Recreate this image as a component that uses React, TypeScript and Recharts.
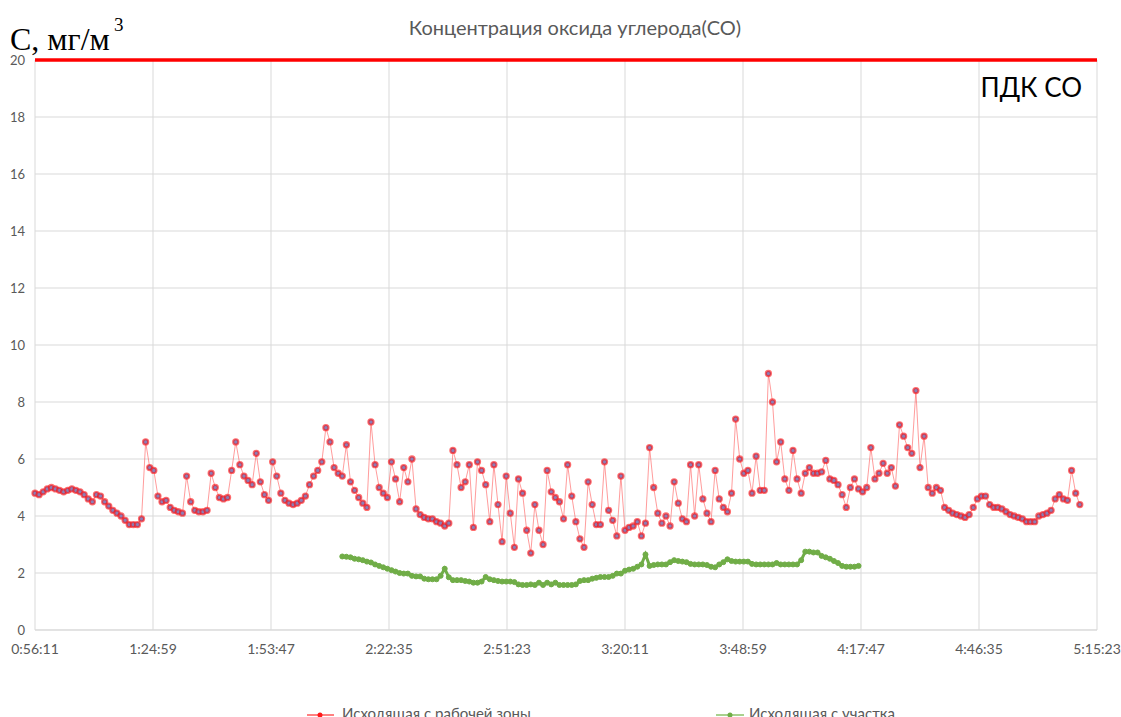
import React from 'react'
import {
  LineChart,
  Line,
  XAxis,
  YAxis,
  CartesianGrid,
  ReferenceLine,
} from 'recharts'

const T0 = 3371
const STEP = 60
const GREEN_START = 75

const xTickLabels = ['0:56:11', '1:24:59', '1:53:47', '2:22:35', '2:51:23', '3:20:11', '3:48:59', '4:17:47', '4:46:35', '5:15:23']
const yTicks = [0, 2, 4, 6, 8, 10, 12, 14, 16, 18, 20]
const pdk = 20

// Исходящая с рабочей зоны
const redA = [
  4.8, 4.75, 4.85, 4.95, 5.0, 4.95, 4.9, 4.85, 4.9, 4.95,
  4.9, 4.85, 4.75, 4.6, 4.5, 4.75, 4.7, 4.5, 4.35, 4.2,
  4.1, 4.0, 3.85, 3.7, 3.7, 3.7, 3.9, 6.6, 5.7, 5.6,
  4.7, 4.5, 4.55, 4.3, 4.2, 4.15, 4.1, 5.4, 4.5, 4.2,
  4.15, 4.15, 4.2, 5.5, 5.0, 4.65, 4.6, 4.65, 5.6, 6.6,
]
const redB = [
  5.8, 5.4, 5.25, 5.1, 6.2, 5.2, 4.75, 4.55, 5.9, 5.4,
  4.8, 4.55, 4.45, 4.4, 4.45, 4.55, 4.7, 5.1, 5.4, 5.6,
  5.9, 7.1, 6.6, 5.7, 5.5, 5.4, 6.5, 5.2, 4.9, 4.65,
  4.45, 4.3, 7.3, 5.8, 5.0, 4.8, 4.65, 5.9, 5.3, 4.5,
  5.7, 5.2, 6.0, 4.25, 4.05, 3.95, 3.9, 3.9, 3.8, 3.75,
]
const redC = [
  3.65, 3.75, 6.3, 5.8, 5.0, 5.2, 5.8, 3.6, 5.9, 5.6,
  5.1, 3.8, 5.8, 4.4, 3.1, 5.4, 4.1, 2.9, 5.3, 4.8,
  3.5, 2.7, 4.4, 3.5, 3.0, 5.6, 4.85, 4.65, 4.5, 3.9,
  5.8, 4.7, 3.8, 3.2, 2.9, 5.2, 4.4, 3.7, 3.7, 5.9,
  4.2, 3.85, 3.3, 5.4, 3.5, 3.6, 3.65, 3.8, 3.3, 3.75,
]
const redD = [
  6.4, 5.0, 4.1, 3.75, 4.0, 3.65, 5.2, 4.45, 3.9, 3.8,
  5.8, 4.0, 5.8, 4.6, 4.1, 3.8, 5.6, 4.6, 4.3, 4.15,
  4.8, 7.4, 6.0, 5.5, 5.6, 4.8, 6.1, 4.9, 4.9, 9.0,
  8.0, 5.9, 6.6, 5.3, 4.9, 6.3, 5.3, 4.8, 5.5, 5.7,
  5.5, 5.5, 5.55, 5.95, 5.3, 5.25, 5.1, 4.75, 4.3, 5.0,
]
const redE = [
  5.3, 4.95, 4.85, 5.0, 6.4, 5.3, 5.5, 5.85, 5.5, 5.7,
  5.05, 7.2, 6.8, 6.4, 6.2, 8.4, 5.7, 6.8, 5.0, 4.8,
  5.0, 4.9, 4.3, 4.2, 4.1, 4.05, 4.0, 3.95, 4.05, 4.3,
  4.6, 4.7, 4.7, 4.4, 4.3, 4.3, 4.25, 4.15, 4.05, 4.0,
  3.95, 3.9, 3.8, 3.8, 3.8, 4.0, 4.05, 4.1, 4.2, 4.6,
  4.75, 4.6, 4.55, 5.6, 4.8, 4.4,
]

// Исходящая с участка
const greenA = [
  2.58, 2.57, 2.55, 2.5, 2.48, 2.45, 2.4, 2.37, 2.3, 2.25,
  2.2, 2.15, 2.1, 2.05, 2.0, 1.98, 1.98, 1.9, 1.88, 1.88,
  1.8, 1.78, 1.78, 1.78, 1.9, 2.15, 1.85, 1.75, 1.75, 1.75,
  1.72, 1.7, 1.66, 1.66, 1.7, 1.86, 1.78, 1.75, 1.72, 1.7,
  1.7, 1.7, 1.68, 1.6, 1.58, 1.58, 1.6, 1.58, 1.66, 1.58,
]
const greenB = [
  1.66, 1.6, 1.66, 1.58, 1.58, 1.58, 1.58, 1.6, 1.72, 1.75,
  1.75, 1.8, 1.83, 1.86, 1.86, 1.86, 1.9, 1.98, 1.98, 2.08,
  2.12, 2.15, 2.22, 2.3, 2.65, 2.25, 2.28, 2.3, 2.3, 2.3,
  2.38, 2.45, 2.42, 2.4, 2.38, 2.32, 2.3, 2.3, 2.3, 2.28,
  2.22, 2.2, 2.3, 2.38, 2.48, 2.42, 2.4, 2.4, 2.4, 2.4,
  2.32, 2.3, 2.3, 2.3, 2.3, 2.3, 2.35, 2.3, 2.3, 2.3,
  2.3, 2.3, 2.45, 2.75, 2.75, 2.72, 2.72, 2.6, 2.55, 2.5,
  2.42, 2.35, 2.25, 2.22, 2.22, 2.22, 2.25,
]

const red = [...redA, ...redB, ...redC, ...redD, ...redE]
const green = [...greenA, ...greenB]

const parseTime = (s: string) => {
  const [h, m, sec] = s.split(':').map(Number)
  return h * 3600 + m * 60 + sec
}
const fmtTime = (v: number) => {
  const h = Math.floor(v / 3600)
  const m = Math.floor((v % 3600) / 60)
  const s = v % 60
  return `${h}:${String(m).padStart(2, '0')}:${String(s).padStart(2, '0')}`
}

const xTicks = xTickLabels.map(parseTime)

const data = red.map((v, i) => {
  const g = green[i - GREEN_START]
  return { t: T0 + i * STEP, red: v, green: g === undefined ? null : g }
})

const FONT = 'Lato, "Open Sans", sans-serif'
const SERIF = '"Liberation Serif", "DejaVu Serif", serif'
const GREY = '#595959'

export default function App() {
  return (
    <div style={{ position: 'absolute', left: 0, top: 0, width: 1121, height: 717, background: '#fff', overflow: 'hidden' }}>
      <LineChart width={1121} height={717} data={data} margin={{ top: 60, right: 24, left: 0, bottom: 57 }}>
        <CartesianGrid stroke="#d9d9d9" strokeWidth={1} />
        <XAxis
          dataKey="t"
          type="number"
          domain={[xTicks[0], xTicks[xTicks.length - 1]]}
          ticks={xTicks}
          interval={0}
          tickFormatter={fmtTime}
          height={30}
          axisLine={{ stroke: '#d9d9d9' }}
          tickLine={false}
          tickMargin={8}
          tick={{ fill: GREY, fontSize: 14, fontFamily: FONT }}
        />
        <YAxis
          type="number"
          domain={[0, 20]}
          ticks={yTicks}
          interval={0}
          width={35}
          axisLine={false}
          tickLine={false}
          tickMargin={4}
          tick={{ fill: GREY, fontSize: 13, fontFamily: FONT }}
        />
        <ReferenceLine y={pdk} stroke="#ff0000" strokeWidth={3.5} />
        <Line
          dataKey="red"
          stroke="#ff5a5a"
          strokeOpacity={0.6}
          strokeWidth={1}
          dot={{ r: 2.6, fill: '#8a80b8', stroke: '#ff0d0d', strokeWidth: 2.1 }}
          isAnimationActive={false}
        />
        <Line
          dataKey="green"
          stroke="#70ad47"
          strokeWidth={3}
          dot={{ r: 2.5, fill: '#70ad47', stroke: '#70ad47', strokeWidth: 1 }}
          isAnimationActive={false}
        />
      </LineChart>
      <svg width={1121} height={717} style={{ position: 'absolute', left: 0, top: 0, pointerEvents: 'none' }}>
        <text x={575} y={35} textAnchor="middle" fill={GREY} fontSize={20} fontFamily={FONT}>
          Концентрация оксида углерода(CO)
        </text>
        <text x={10} y={50} fill="#000" fontSize={32} fontFamily={SERIF}>
          C, мг/м
        </text>
        <text x={114} y={31} fill="#000" fontSize={19} fontFamily={SERIF}>
          3
        </text>
        <text x={1082} y={97} textAnchor="end" fill="#000" fontSize={26} fontFamily={FONT}>
          ПДК СО
        </text>
        <line x1={307} x2={334} y1={715} y2={715} stroke="#ff8080" strokeWidth={2} />
        <circle cx={320} cy={715} r={2.5} fill="#ff1a1a" />
        <text x={342} y={719} fill={GREY} fontSize={15} fontFamily={FONT}>
          Исходящая с рабочей зоны
        </text>
        <line x1={716} x2={744} y1={715} y2={715} stroke="#a9d18e" strokeWidth={2} />
        <circle cx={730} cy={715} r={2.5} fill="#70ad47" />
        <text x={749} y={719} fill={GREY} fontSize={15} fontFamily={FONT}>
          Исходящая с участка
        </text>
      </svg>
    </div>
  )
}
